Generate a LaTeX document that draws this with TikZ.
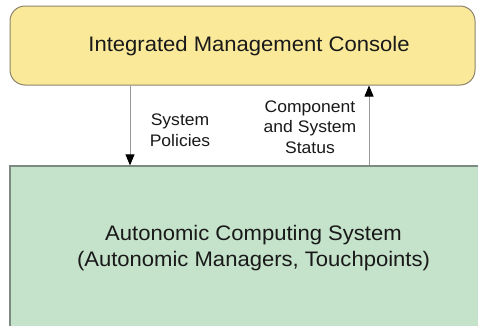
\documentclass[tikz,border=0pt]{standalone}
\usepackage{fontspec}
\setmainfont{Liberation Sans}[FakeStretch=1.05]
\usetikzlibrary{arrows.meta,calc,positioning}
\definecolor{consolefill}{RGB}{249,233,152}
\definecolor{consoleedge}{RGB}{140,132,110}
\definecolor{systemfill}{RGB}{197,226,202}
\definecolor{systemedge}{RGB}{125,138,130}
\tikzset{
  boxtext/.style={font=\fontsize{21}{25.5}\selectfont,align=center,text=black!90},
  flowtext/.style={font=\fontsize{16.7}{20.5}\selectfont,align=center,text=black!90},
  flow/.style={draw=gray!80,line width=0.8pt,-{Triangle[length=11pt,width=9pt,black]}}
}

\begin{document}
\begin{tikzpicture}[x=1pt,y=1pt]
\clip (0,0) rectangle (478,325);
\fill[white] (0,0) rectangle (478,325);
\node[draw=consoleedge,fill=consolefill,line width=1pt,rounded corners=15pt,
  minimum width=465pt,minimum height=79pt,inner sep=0pt] (console) at (242.5,279.5) {};
\node[boxtext] (consolelabel) at (249,278.5) {Integrated Management Console};
\node[draw=systemedge,fill=systemfill,line width=1.3pt,
  minimum width=487pt,minimum height=164pt,inner sep=0pt,boxtext] (system) at (253.5,77)
  {Autonomic Computing System\\(Autonomic Managers, Touchpoints)};
\coordinate (downx) at (130,0);
\coordinate (upx) at (369,0);
\draw[flow] (console.south -| downx) -- (system.north -| downx);
\draw[flow] (system.north -| upx) -- (console.south -| upx);
\node[flowtext] (policies) at (180,195) {System\\Policies};
\node[flowtext] (status) at (310,198) {Component\\and System\\Status};
\end{tikzpicture}
\end{document}
